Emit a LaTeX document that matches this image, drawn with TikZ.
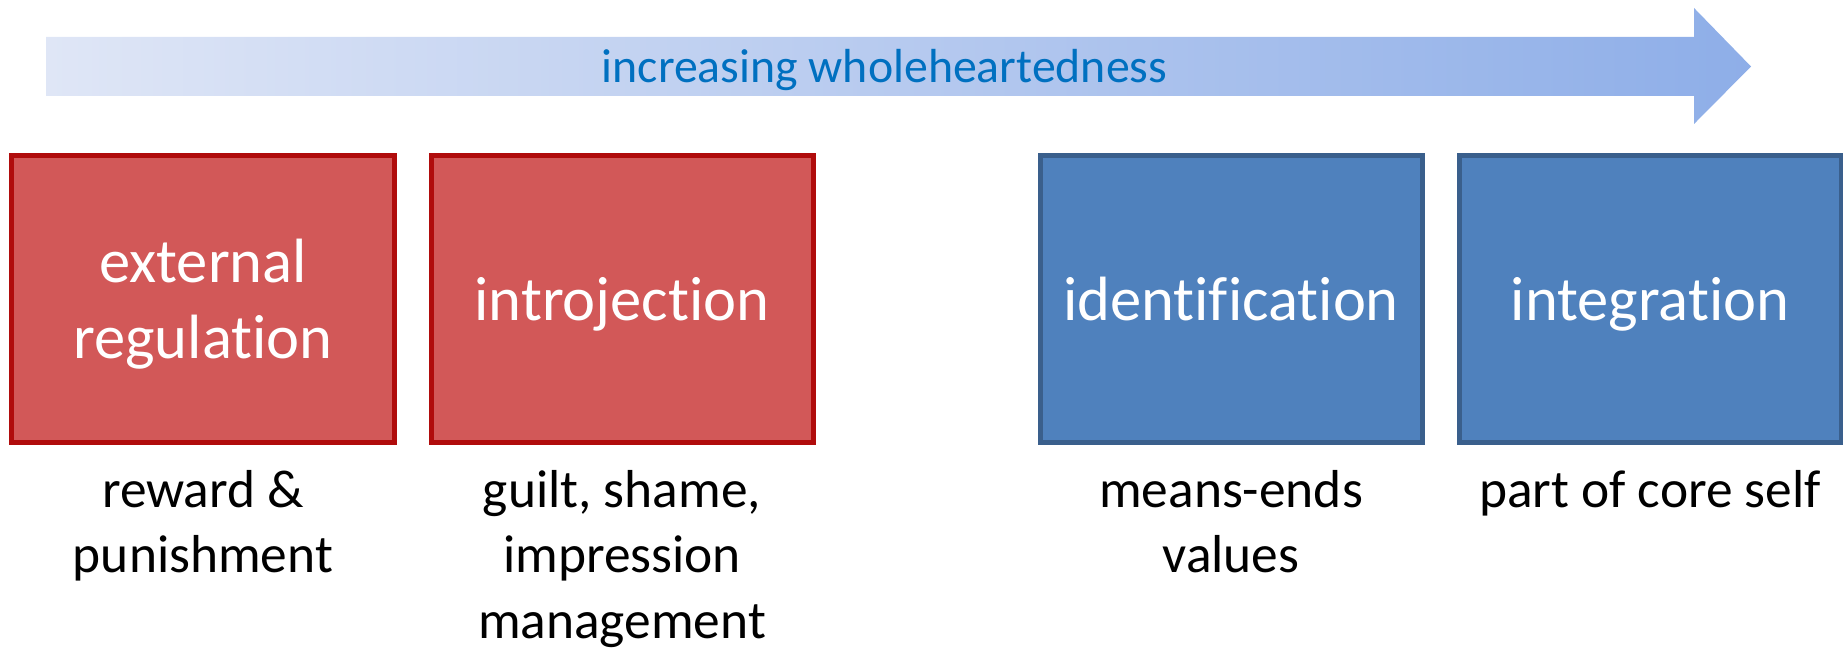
\documentclass[tikz,border=0pt]{standalone}
\usepackage{fontspec}
\setmainfont{Carlito}[Ligatures=NoCommon]
\usetikzlibrary{positioning,calc}
\definecolor{extred}{RGB}{210,88,88}
\definecolor{extredline}{RGB}{176,12,12}
\definecolor{intblue}{RGB}{79,129,189}
\definecolor{intblueline}{RGB}{58,95,140}
\definecolor{arrowleft}{RGB}{223,230,246}
\definecolor{arrowright}{RGB}{142,174,232}
\definecolor{arrowtext}{RGB}{0,112,192}
\begin{document}
\begin{tikzpicture}[
    regbox/.style={draw, line width=0.05cm, minimum width=3.82cm,
      minimum height=2.87cm, inner sep=0pt, align=center, text=white,
      text depth=0pt, font=\fontsize{17.8}{21.6}\selectfont},
    extbox/.style={regbox, fill=extred, draw=extredline},
    intbox/.style={regbox, fill=intblue, draw=intblueline},
    note/.style={align=center, inner sep=0pt, anchor=north,
      font=\fontsize{15.2}{18.6}\selectfont}
  ]
    \useasboundingbox (0,0) rectangle (18.43,6.47);% Keeps the margins
    \coordinate (ArrowTail) at (0.46,5.805);
    \coordinate (ArrowTip)  at (17.51,5.805);

    % The big shaded arrow on top
    \shade[left color=arrowleft, right color=arrowright]
        ($(ArrowTail)+(0,-0.295)$) -- (16.94,5.51) -- (16.94,5.23)
        -- (ArrowTip) -- (16.94,6.39) -- (16.94,6.10)
        -- ($(ArrowTail)+(0,0.295)$) -- cycle;
    \node[text=arrowtext, font=\fontsize{13.6}{16}\selectfont, anchor=base]
        (Motto) at (8.845,5.64) {increasing wholeheartedness};

    % The four regulation boxes
    \node[extbox] (External) at (2.03,3.4825) {external\\regulation};
    \node[extbox, right=0.32cm of External] (Introjection) {introjection};
    \node[intbox, right=2.22cm of Introjection] (Identification) {identification};
    \node[intbox, right=0.32cm of Identification] (Integration) {integration};

    % Notes under the boxes
    \node[below=0.25cm of External.south, note] (ExternalNote)
        {reward \&\\punishment};
    \node[below=0.25cm of Introjection.south, note] (IntrojectionNote)
        {guilt, shame,\\impression\\management};
    \node[below=0.25cm of Identification.south, note] (IdentificationNote)
        {means-ends\\values};
    \node[below=0.25cm of Integration.south, note] (IntegrationNote)
        {part of core self};
\end{tikzpicture}
\end{document}
